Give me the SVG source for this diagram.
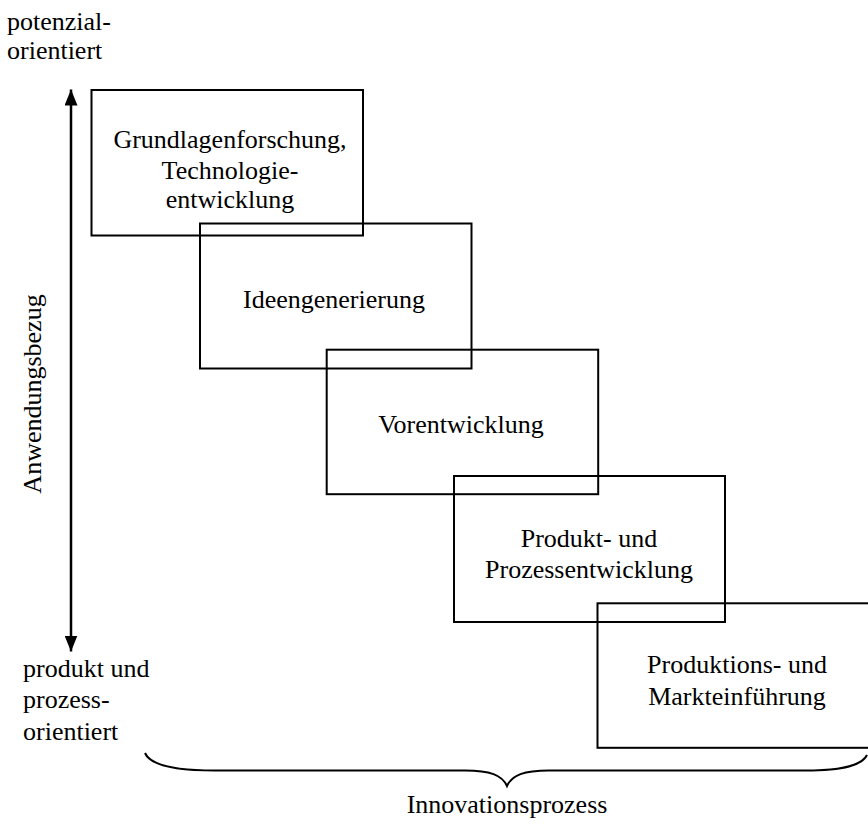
<svg xmlns="http://www.w3.org/2000/svg" width="868" height="824" viewBox="0 0 868 824">
  <style>
    text { font-family: "Liberation Serif", "Times New Roman", serif; font-size: 26px; fill: #000; }
    .c { text-anchor: middle; }
    .box { fill: none; stroke: #000; stroke-width: 2; }
    .line { fill: none; stroke: #000; stroke-width: 2.5; }
    .brace { fill: none; stroke: #000; stroke-width: 2; }
  </style>
  <defs>
    <marker id="head" viewBox="0 0 16 13" refX="16" refY="6.5" markerWidth="16" markerHeight="13" markerUnits="userSpaceOnUse" orient="auto-start-reverse">
      <path d="M0,0 L16,6.5 L0,13 Z" fill="#000"/>
    </marker>
  </defs>
  <rect width="868" height="824" fill="#fff"/>

  <!-- axis labels -->
  <g id="label-top">
    <text x="7" y="30">potenzial-</text>
    <text x="7" y="59">orientiert</text>
  </g>
  <g id="label-bottom">
    <text x="23" y="677">produkt und</text>
    <text x="23" y="708">prozess-</text>
    <text x="23" y="740">orientiert</text>
  </g>
  <g id="label-axis">
    <text class="c" transform="translate(41,394) rotate(-90)">Anwendungsbezug</text>
  </g>

  <!-- phase boxes, stepping down to the right -->
  <g id="phase-1">
    <rect class="box" x="91.5" y="90" width="271.5" height="145.5"/>
    <text class="c" x="230" y="148">Grundlagenforschung,</text>
    <text class="c" x="230" y="179">Technologie-</text>
    <text class="c" x="230" y="208">entwicklung</text>
  </g>
  <g id="phase-2">
    <rect class="box" x="200" y="223.5" width="271.5" height="145"/>
    <text class="c" x="334" y="307.5">Ideengenerierung</text>
  </g>
  <g id="phase-3">
    <rect class="box" x="326.7" y="349.7" width="271.5" height="144.5"/>
    <text class="c" x="461" y="433">Vorentwicklung</text>
  </g>
  <g id="phase-4">
    <rect class="box" x="454" y="476" width="271" height="146"/>
    <text class="c" x="589" y="547">Produkt- und</text>
    <text class="c" x="589" y="578">Prozessentwicklung</text>
  </g>
  <g id="phase-5">
    <rect class="box" x="597.5" y="603.3" width="272" height="144.5"/>
    <text class="c" x="737" y="673">Produktions- und</text>
    <text class="c" x="737" y="705">Markteinführung</text>
  </g>

  <!-- connectors: vertical axis arrow and the process brace -->
  <g id="connectors">
    <line class="line" x1="71" y1="89.5" x2="71" y2="651.5" marker-start="url(#head)" marker-end="url(#head)"/>
    <path class="brace" d="M145,753 C150,765 175,770.5 215,770.5 L465,770.5 C490,770.5 502,775 507,786 C512,775 524,770.5 549,770.5 L805,770.5 C845,770.5 862,765 867,755"/>
  </g>

  <g id="label-process">
    <text class="c" x="507" y="813">Innovationsprozess</text>
  </g>
</svg>
